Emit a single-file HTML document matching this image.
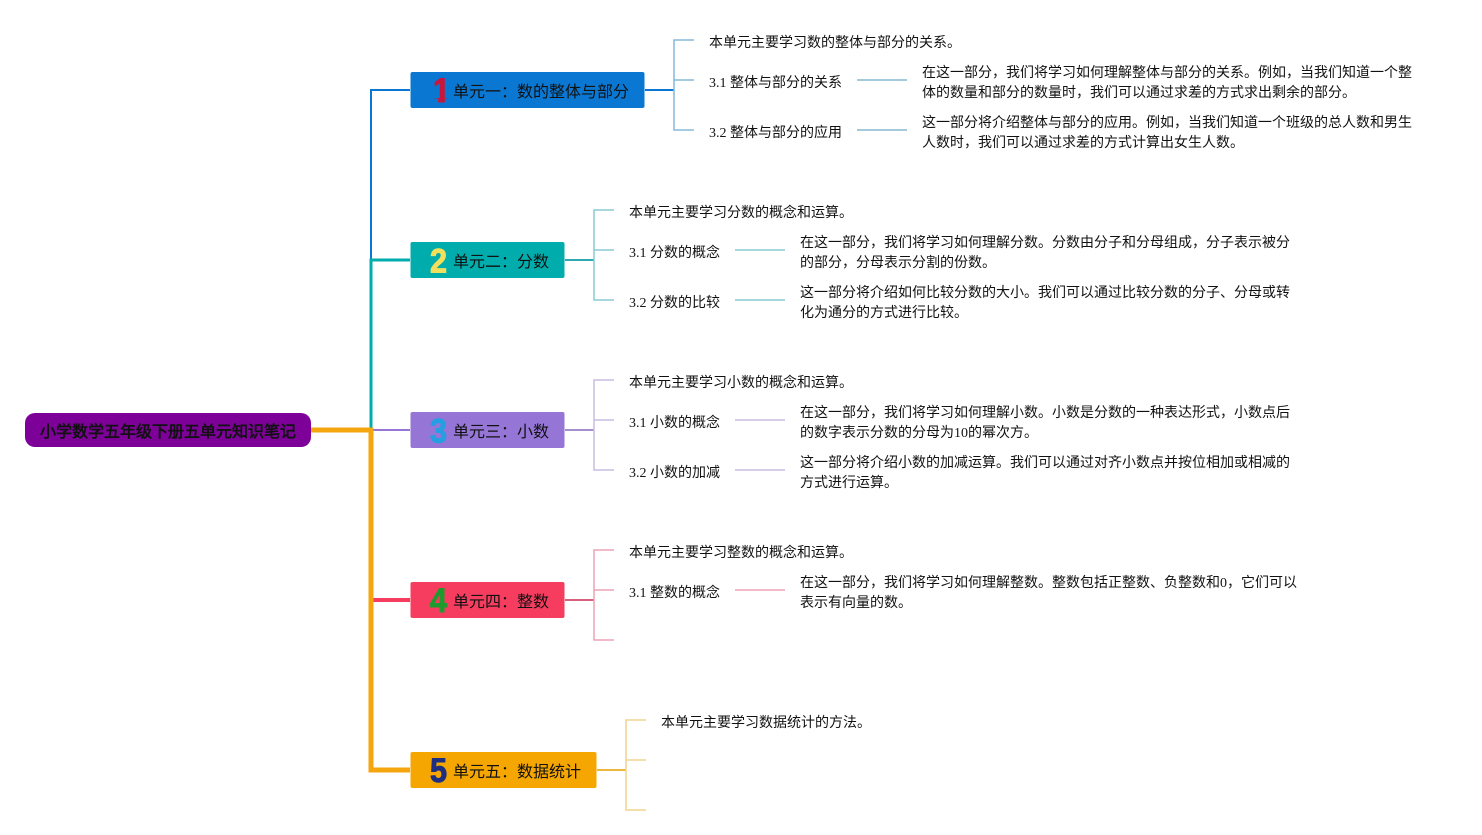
<!DOCTYPE html>
<html lang="zh">
<head>
<meta charset="utf-8">
<style>
html,body{margin:0;padding:0;background:#fff;width:1482px;height:835px;overflow:hidden}
svg{display:block}
text{font-family:"Liberation Serif","WenQuanYi Zen Hei",serif;font-size:14px;fill:#111}
.u{font-size:16px;fill:#111}
.r{font-size:16px;font-weight:bold;fill:#111}
.n{font-family:"Liberation Sans",sans-serif;font-size:34px;font-weight:bold;text-anchor:middle;stroke-width:1;stroke-linejoin:round}
path,line{fill:none}
</style>
</head>
<body>
<svg width="1482" height="835" viewBox="0 0 1482 835" xmlns="http://www.w3.org/2000/svg">
<defs>
<clipPath id="one"><path d="M430 70H448V98.500H444.800V106H438.200V98.500H430Z"/></clipPath>
</defs>
<!-- trunk -->
<path d="M410 90H371V260" stroke="#0a78d2" stroke-width="2"/>
<path d="M410 260H371V430" stroke="#00acac" stroke-width="3"/>
<path d="M372 430H410" stroke="#9575d5" stroke-width="2"/>
<path d="M372 600H410" stroke="#f63d5f" stroke-width="4"/>
<path d="M311 430H371V770H410" stroke="#f5a60e" stroke-width="5"/>

<!-- unit 1 -->
<path d="M645 90H674" stroke="#0a78d2" stroke-width="2"/>
<path d="M694 40H674V130H694M674 80H694" stroke="#85b8dc" stroke-width="1.5"/>
<path d="M857 80H907M857 130H907" stroke="#85b8d4" stroke-width="1.5"/>
<!-- unit 2 -->
<path d="M565 260H594" stroke="#2fa9b0" stroke-width="2"/>
<path d="M614 210H594V300H614M594 250H614" stroke="#8accd2" stroke-width="1.5"/>
<path d="M735 250H785M735 300H785" stroke="#8accd2" stroke-width="1.5"/>
<!-- unit 3 -->
<path d="M565 430H594" stroke="#a78fce" stroke-width="2"/>
<path d="M614 380H594V470H614M594 420H614" stroke="#c8bde2" stroke-width="1.5"/>
<path d="M735 420H785M735 470H785" stroke="#c8bde2" stroke-width="1.5"/>
<!-- unit 4 -->
<path d="M565 600H594" stroke="#d9607c" stroke-width="2"/>
<path d="M614 550H594V640H614M594 590H614" stroke="#eea4b6" stroke-width="1.5"/>
<path d="M735 590H785" stroke="#eea4b6" stroke-width="1.5"/>
<!-- unit 5 -->
<path d="M597 770H626" stroke="#eeb63c" stroke-width="2"/>
<path d="M646 720H626V810H646M626 760H646" stroke="#f3d48e" stroke-width="1.5"/>

<!-- root -->
<rect x="25" y="413" width="286" height="34" rx="10" fill="#7d0099"/>
<text class="r" x="40" y="437">小学数学五年级下册五单元知识笔记</text>

<!-- unit nodes -->
<rect x="410.500" y="72" width="234" height="36" rx="2" fill="#0a78d2"/>
<g clip-path="url(#one)"><text class="n" transform="translate(441.500 102) scale(.9 1)" style="fill:#c8173c;stroke:#c8173c">1</text></g>
<text class="u" x="453" y="97">单元一：数的整体与部分</text>

<rect x="410.500" y="242" width="154" height="36" rx="2" fill="#00acac"/>
<text class="n" transform="translate(438.500 272.500) scale(.9 1)" style="fill:#f2e05c;stroke:#f2e05c">2</text>
<text class="u" x="453" y="267">单元二：分数</text>

<rect x="410.500" y="412" width="154" height="36" rx="2" fill="#9575d5"/>
<text class="n" transform="translate(438.500 442.500) scale(.9 1)" style="fill:#239fe2;stroke:#239fe2">3</text>
<text class="u" x="453" y="437">单元三：小数</text>

<rect x="410.500" y="582" width="154" height="36" rx="2" fill="#f63d5f"/>
<text class="n" transform="translate(438.500 612) scale(.9 1)" style="fill:#1f9a2e;stroke:#1f9a2e">4</text>
<text class="u" x="453" y="607">单元四：整数</text>

<rect x="410.500" y="752" width="186" height="36" rx="2" fill="#f5a600"/>
<text class="n" transform="translate(438.500 782) scale(.9 1)" style="fill:#1f2f80;stroke:#1f2f80">5</text>
<text class="u" x="453" y="777">单元五：数据统计</text>

<!-- unit 1 text -->
<text x="709" y="47">本单元主要学习数的整体与部分的关系。</text>
<text x="709" y="87">3.1 整体与部分的关系</text>
<text x="709" y="137">3.2 整体与部分的应用</text>
<text x="922" y="77">在这一部分，我们将学习如何理解整体与部分的关系。例如，当我们知道一个整</text>
<text x="922" y="97">体的数量和部分的数量时，我们可以通过求差的方式求出剩余的部分。</text>
<text x="922" y="127">这一部分将介绍整体与部分的应用。例如，当我们知道一个班级的总人数和男生</text>
<text x="922" y="147">人数时，我们可以通过求差的方式计算出女生人数。</text>

<!-- unit 2 text -->
<text x="629" y="217">本单元主要学习分数的概念和运算。</text>
<text x="629" y="257">3.1 分数的概念</text>
<text x="629" y="307">3.2 分数的比较</text>
<text x="800" y="247">在这一部分，我们将学习如何理解分数。分数由分子和分母组成，分子表示被分</text>
<text x="800" y="267">的部分，分母表示分割的份数。</text>
<text x="800" y="297">这一部分将介绍如何比较分数的大小。我们可以通过比较分数的分子、分母或转</text>
<text x="800" y="317">化为通分的方式进行比较。</text>

<!-- unit 3 text -->
<text x="629" y="387">本单元主要学习小数的概念和运算。</text>
<text x="629" y="427">3.1 小数的概念</text>
<text x="629" y="477">3.2 小数的加减</text>
<text x="800" y="417">在这一部分，我们将学习如何理解小数。小数是分数的一种表达形式，小数点后</text>
<text x="800" y="437">的数字表示分数的分母为10的幂次方。</text>
<text x="800" y="467">这一部分将介绍小数的加减运算。我们可以通过对齐小数点并按位相加或相减的</text>
<text x="800" y="487">方式进行运算。</text>

<!-- unit 4 text -->
<text x="629" y="557">本单元主要学习整数的概念和运算。</text>
<text x="629" y="597">3.1 整数的概念</text>
<text x="800" y="587">在这一部分，我们将学习如何理解整数。整数包括正整数、负整数和0，它们可以</text>
<text x="800" y="607">表示有向量的数。</text>

<!-- unit 5 text -->
<text x="661" y="727">本单元主要学习数据统计的方法。</text>
</svg>
</body>
</html>
